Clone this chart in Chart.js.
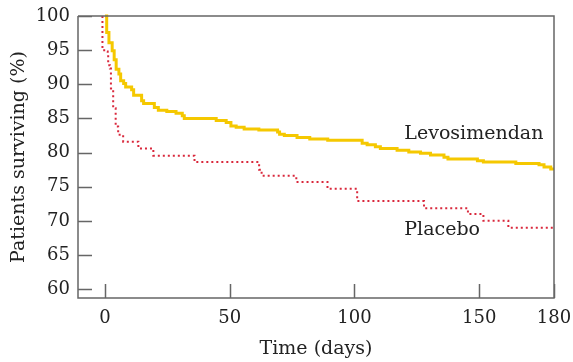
<!DOCTYPE html>
<html>
<head>
<meta charset="utf-8">
<script src="https://cdn.jsdelivr.net/npm/chart.js@4/dist/chart.umd.min.js"></script>
<style>
  html, body { margin: 0; padding: 0; background: #fff; }
  #wrap { width: 573px; height: 362px; }
</style>
</head>
<body>
<div id="wrap"><canvas id="survChart"></canvas></div>
<script>
// Kaplan-Meier curves: day of each drop and survival after it
const levoDays = [0, 0.7, 1.6, 2.9, 3.7, 4.5, 5.6, 6.3, 7.5, 8.3, 10.7, 11.5, 14.7, 15.5, 19.8, 21.4,
    24.8, 28.5, 31.0, 31.8, 44.6, 48.6, 50.5, 52.6, 55.8, 61.7, 69.2, 70.0, 71.9, 77.0, 82.1, 89.3,
    103.1, 105.1, 108.4, 110.4, 117.1, 121.8, 126.5, 130.5, 135.9, 137.5, 149.3, 151.7, 164.7,
    174.0, 176.0, 178.7, 180];
const levoSurv = [100, 97.6, 96.1, 94.9, 93.6, 92.2, 91.5, 90.5, 90.1, 89.6, 89.2, 88.4, 87.6, 87.2, 86.6, 86.2,
    86.0, 85.75, 85.4, 85.0, 84.7, 84.4, 83.9, 83.7, 83.45, 83.3, 83.0, 82.7, 82.5, 82.2, 82.0, 81.8,
    81.35, 81.15, 80.85, 80.6, 80.35, 80.1, 79.9, 79.65, 79.3, 79.05, 78.8, 78.6, 78.4,
    78.2, 77.9, 77.6, 77.6];

const placDays = [-1, -1, -0.3, 1.1, 1.3, 2.0, 2.4, 3.3, 4.3, 5.3, 7.3, 13.4, 19.4, 35.9, 61.8, 62.8,
    76.7, 89.2, 101.1, 127.9, 145.5, 151.7, 161.7, 180];
const placSurv = [100, 95.3, 94.8, 94.5, 92.8, 92.3, 89.4, 86.5, 83.8, 82.6, 81.6, 80.6, 79.55, 78.6, 77.5, 76.6,
    75.7, 74.7, 72.9, 71.85, 71.0, 70.0, 69.0, 69.0];

const xTicks = [0, 50, 100, 150, 180];
const yTicks = [60, 65, 70, 75, 80, 85, 90, 95, 100];

const seriesLabels = ['Levosimendan', 'Placebo'];
// where the series names sit, in data units
const labelPos = [{ x: 120, y: 82.7 }, { x: 120, y: 68.7 }];

const serif = 'DejaVu Serif';
const axisColor = '#666';

function toPoints(days, surv) {
    return days.map((d, i) => ({ x: d, y: surv[i] }));
}

// box, inward ticks and series names
const framePlugin = {
    id: 'frame',
    afterDraw(chart) {
        const ctx = chart.ctx;
        const area = chart.chartArea;
        const xs = chart.scales.x;
        const ys = chart.scales.y;
        ctx.save();
        ctx.strokeStyle = axisColor;
        ctx.lineWidth = 1.5;
        ctx.beginPath();
        ctx.moveTo(area.left, area.top);
        ctx.lineTo(area.right, area.top);
        ctx.lineTo(area.right, area.bottom);
        ctx.lineTo(area.left, area.bottom);
        ctx.lineTo(area.left, area.top);
        yTicks.forEach(v => {
            const py = Math.round(ys.getPixelForValue(v)) + 0.5;
            ctx.moveTo(area.left, py);
            ctx.lineTo(area.left + 14, py);
        });
        xTicks.forEach(v => {
            const px = Math.round(xs.getPixelForValue(v)) + 0.5;
            ctx.moveTo(px, area.bottom);
            ctx.lineTo(px, area.bottom - 14);
        });
        ctx.stroke();

        ctx.fillStyle = '#222';
        ctx.font = '19px "' + serif + '"';
        ctx.textBaseline = 'middle';
        ctx.textAlign = 'left';
        seriesLabels.forEach((name, i) => {
            ctx.fillText(name, xs.getPixelForValue(labelPos[i].x), ys.getPixelForValue(labelPos[i].y));
        });
        ctx.restore();
    }
};

const ctx = document.getElementById('survChart').getContext('2d');

new Chart(ctx, {
    type: 'line',
    data: {
        datasets: [
            {
                label: seriesLabels[0],
                data: toPoints(levoDays, levoSurv),
                borderColor: '#f5c800',
                borderWidth: 3,
                stepped: 'before',
                pointRadius: 0,
                fill: false,
                clip: 4
            },
            {
                label: seriesLabels[1],
                data: toPoints(placDays, placSurv),
                borderColor: '#d9283c',
                borderWidth: 2,
                borderDash: [2, 3],
                stepped: 'before',
                pointRadius: 0,
                fill: false,
                clip: 4
            }
        ]
    },
    options: {
        responsive: true,
        maintainAspectRatio: false,
        animation: false,
        layout: { padding: { left: 0, top: 16, right: 19, bottom: 0 } },
        plugins: {
            legend: { display: false },
            tooltip: { enabled: false }
        },
        scales: {
            x: {
                type: 'linear',
                min: -10.8,
                max: 180,
                grid: { display: false, drawTicks: false },
                border: { display: false },
                afterBuildTicks: scale => { scale.ticks = xTicks.map(v => ({ value: v })); },
                afterFit: scale => {
                    scale.height = 64;
                    scale.paddingLeft = 0;
                    scale.paddingRight = 0;
                },
                ticks: {
                    color: '#222',
                    padding: 10,
                    maxRotation: 0,
                    autoSkip: false,
                    font: { family: serif, size: 18 }
                },
                title: {
                    display: true,
                    text: 'Time (days)',
                    color: '#222',
                    padding: { top: 0, bottom: 2 },
                    font: { family: serif, size: 19 }
                }
            },
            y: {
                type: 'linear',
                min: 58.7,
                max: 100,
                grid: { display: false, drawTicks: false },
                border: { display: false },
                afterBuildTicks: scale => { scale.ticks = yTicks.map(v => ({ value: v })); },
                afterFit: scale => {
                    scale.width = 78;
                    scale.paddingTop = 0;
                    scale.paddingBottom = 0;
                },
                ticks: {
                    color: '#222',
                    padding: 8,
                    autoSkip: false,
                    font: { family: serif, size: 18 }
                },
                title: {
                    display: true,
                    text: 'Patients surviving (%)',
                    color: '#222',
                    padding: { top: 8, bottom: 0 },
                    font: { family: serif, size: 19 }
                }
            }
        }
    },
    plugins: [framePlugin]
});
</script>
</body>
</html>
